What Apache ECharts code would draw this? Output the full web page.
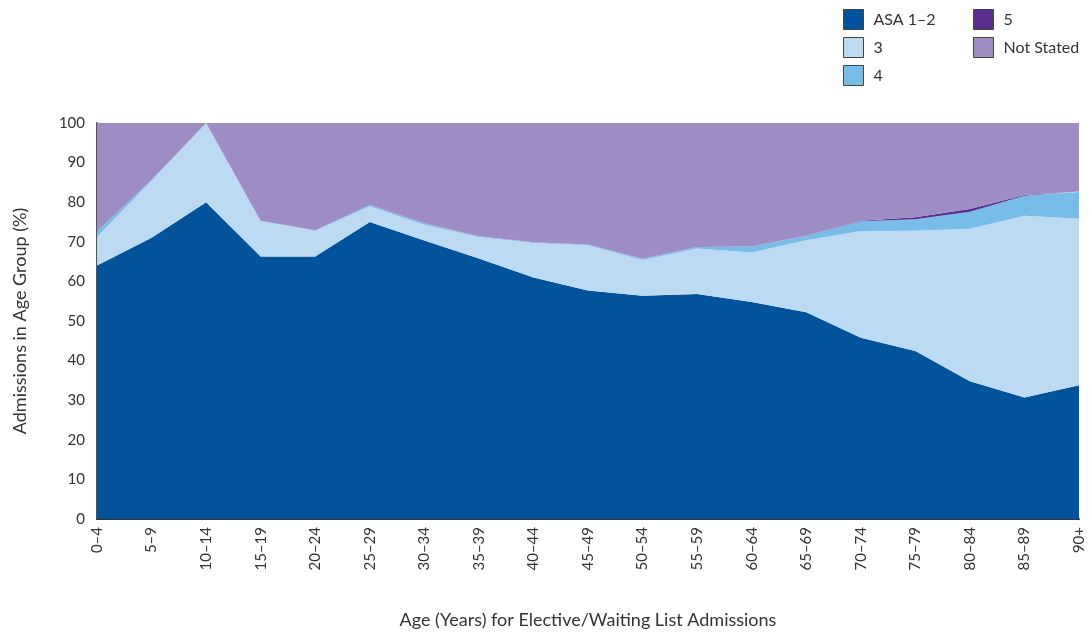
<!DOCTYPE html>
<html>
<head>
<meta charset="utf-8">
<script src="https://cdn.jsdelivr.net/npm/echarts@6/dist/echarts.min.js"></script>
<style>
  html, body { margin: 0; padding: 0; background: #fff; }
  #chart { width: 1089px; height: 634px; }
</style>
</head>
<body>
<div id="chart"></div>
<script>
// age groups
var ages = ['0–4', '5–9', '10–14', '15–19', '20–24', '25–29', '30–34', '35–39', '40–44', '45–49',
  '50–54', '55–59', '60–64', '65–69', '70–74', '75–79', '80–84', '85–89', '90+'];

// share of admissions (%) by ASA grade
var asa12 = [64, 71, 80, 66.3, 66.3, 75, 70.3, 65.8, 61, 57.7, 56.4, 56.8, 54.8, 52.2, 45.8, 42.4, 34.8, 30.7, 33.8];
var asa3 = [7.3, 14.4, 20, 8.9, 6.5, 4, 4, 5.4, 8.7, 11.4, 9, 11.5, 12.5, 18.2, 26.9, 30.4, 38.5, 45.9, 42];
var asa4 = [1.3, 0.2, 0, 0.1, 0.1, 0.3, 0.4, 0.2, 0.2, 0.2, 0.3, 0.4, 1.5, 1.1, 2.5, 2.9, 4.3, 5, 6.8];
var asa5 = [0, 0, 0, 0, 0, 0, 0, 0, 0, 0, 0, 0, 0, 0, 0.1, 0.5, 0.7, 0.2, 0.1];
// not stated = remainder up to 100
var notStated = [];
for (var i = 0; i < ages.length; i++) {
  notStated.push(+(100 - asa12[i] - asa3[i] - asa4[i] - asa5[i]).toFixed(1));
}

var yTicks = [0, 10, 20, 30, 40, 50, 60, 70, 80, 90, 100];

var font = 'Lato, "DejaVu Sans", sans-serif';
var txt = '#333';

function area(name, data, color) {
  return {
    name: name,
    type: 'line',
    stack: 'total',
    data: data,
    symbol: 'none',
    lineStyle: { width: 0 },
    areaStyle: { color: color, opacity: 1 },
    itemStyle: { color: color },
    emphasis: { disabled: true }
  };
}

var legendCommon = {
  orient: 'vertical',
  top: 4,
  itemWidth: 20,
  itemHeight: 20,
  itemGap: 7,
  icon: 'rect',
  itemStyle: { borderColor: '#444', borderWidth: 1 },
  textStyle: { fontFamily: font, fontSize: 16, color: txt, padding: [0, 0, 0, 5] }
};

var option = {
  animation: false,
  backgroundColor: '#fff',
  legend: [
    Object.assign({}, legendCommon, { left: 838, data: ['ASA 1–2', '3', '4'] }),
    Object.assign({}, legendCommon, { left: 968, data: ['5', 'Not Stated'] })
  ],
  grid: { left: 97, right: 10, top: 123, bottom: 115, outerBoundsMode: 'none' },
  xAxis: {
    type: 'category',
    data: ages,
    boundaryGap: false,
    name: 'Age (Years) for Elective/Waiting List Admissions',
    nameLocation: 'middle',
    nameGap: 92,
    nameTextStyle: { fontFamily: font, fontSize: 18, color: txt },
    axisLine: { lineStyle: { color: '#333', width: 2 } },
    axisTick: { show: false },
    axisLabel: { rotate: 90, fontFamily: font, fontSize: 15, color: txt, margin: 8 },
    splitLine: { show: false }
  },
  yAxis: {
    type: 'value',
    min: 0,
    max: 100,
    interval: 10,
    name: 'Admissions in Age Group (%)',
    nameLocation: 'middle',
    nameGap: 68,
    nameTextStyle: { fontFamily: font, fontSize: 18, color: txt },
    axisLine: { show: true, lineStyle: { color: '#555', width: 2 } },
    axisTick: { show: false },
    axisLabel: {
      fontFamily: font, fontSize: 15, color: txt, margin: 12,
      formatter: function (v) { return yTicks.indexOf(v) >= 0 ? String(v) : ''; }
    },
    splitLine: { show: false }
  },
  series: [
    area('ASA 1–2', asa12, '#02529C'),
    area('3', asa3, '#BCDBF2'),
    area('4', asa4, '#78BDE8'),
    area('5', asa5, '#5A2D8E'),
    area('Not Stated', notStated, '#9D8DC3')
  ]
};

var myChart = echarts.init(document.getElementById('chart'));
myChart.setOption(option);
</script>
</body>
</html>
